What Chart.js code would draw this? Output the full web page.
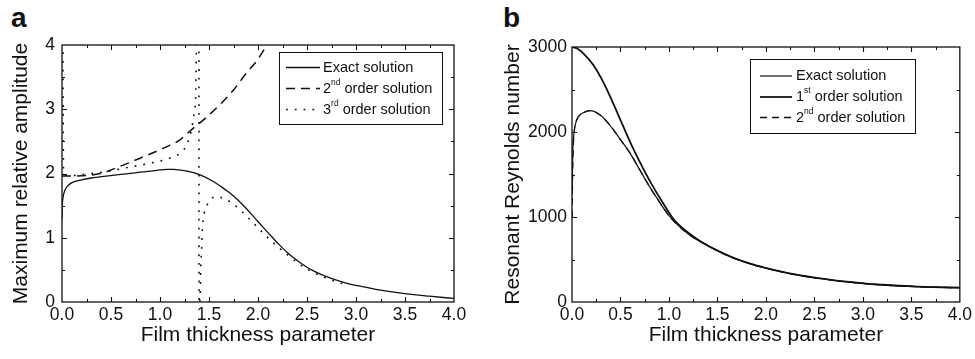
<!DOCTYPE html>
<html>
<head>
<meta charset="utf-8">
<script src="https://cdn.jsdelivr.net/npm/chart.js@4.4.0/dist/chart.umd.min.js"></script>
<style>
  body { margin: 0; background: #fff; width: 975px; height: 359px; overflow: hidden; position: relative;
         font-family: "Liberation Sans", Arial, sans-serif; }
  .panel { position: absolute; top: 0; height: 359px; }
  #panelA { left: 0; width: 480px; }
  #panelB { left: 480px; width: 495px; }
  .tag { position: absolute; top: 4px; font-size: 28px; font-weight: bold; line-height: 28px; color: #111; }
</style>
</head>
<body>
<div class="tag" style="left:11px">a</div>
<div class="tag" style="left:503px">b</div>
<div class="panel" id="panelA"><canvas id="chartA" width="480" height="359"></canvas></div>
<div class="panel" id="panelB"><canvas id="chartB" width="495" height="359"></canvas></div>
<script>
// ---- panel a : maximum relative amplitude ----
const exactAX = [0, 0.003, 0.01, 0.03, 0.06, 0.12, 0.2, 0.3, 0.45, 0.63, 0.8, 0.97, 1.07, 1.14, 1.2, 1.3, 1.41, 1.54,
  1.62, 1.71, 1.8, 1.88, 1.96, 2.05, 2.14, 2.22, 2.31, 2.4, 2.48, 2.57, 2.74, 2.9, 3.08, 3.25, 3.5, 3.75, 4.0];
const exactAY = [1.3, 1.5, 1.62, 1.74, 1.81, 1.87, 1.9, 1.93, 1.96, 1.99, 2.02, 2.05, 2.065, 2.065, 2.055, 2.03, 1.98, 1.88,
  1.8, 1.7, 1.58, 1.455, 1.32, 1.165, 1.015, 0.885, 0.755, 0.645, 0.56, 0.48, 0.37, 0.295, 0.235, 0.185, 0.13, 0.09, 0.055];

const secondAX = [0, 0.1, 0.25, 0.39, 0.59, 0.83, 1.03, 1.2, 1.32, 1.44, 1.61, 1.75, 1.88, 1.99, 2.09, 2.15];
const secondAY = [1.96, 1.96, 1.97, 2.0, 2.11, 2.26, 2.39, 2.52, 2.68, 2.83, 3.07, 3.30, 3.56, 3.76, 4.0, 4.15];

const thirdAX = [0.01, 0.012, 0.016, 0.05, 0.12, 0.25, 0.46, 0.69, 0.9, 1.1, 1.2, 1.28, 1.32, 1.35, 1.364, 1.376,
  1.397, 1.398, 1.41, 1.415, 1.425, 1.43, 1.44, 1.46, 1.5, 1.544, 1.59, 1.636, 1.73, 1.816, 1.9, 1.99, 2.07, 2.16,
  2.24, 2.33, 2.42, 2.51, 2.6, 2.7, 2.8, 2.9];
const thirdAY = [4.3, 3.0, 2.02, 1.97, 1.97, 1.99, 2.03, 2.1, 2.16, 2.24, 2.31, 2.47, 2.68, 2.96, 3.2, 4.2,
  4.2, -0.1, 0.1, 0.5, 0.84, 1.07, 1.28, 1.43, 1.56, 1.63, 1.64, 1.62, 1.545, 1.435, 1.31, 1.17, 1.045, 0.915,
  0.81, 0.7, 0.59, 0.505, 0.435, 0.37, 0.315, 0.27];

// ---- panel b : resonant Reynolds number ----
const exactBX = [0, 0.004, 0.01, 0.02, 0.048, 0.08, 0.116, 0.185, 0.29, 0.39, 0.49, 0.6, 0.7, 0.8, 0.9, 1.0, 1.1, 1.2,
  1.32, 1.49, 1.66, 1.83, 2.0, 2.17, 2.34, 2.52, 2.69, 2.86, 3.03, 3.2, 3.37, 3.55, 3.72, 4.0];
const exactBY = [1250, 1550, 1820, 1990, 2141, 2200, 2227, 2251, 2200, 2082, 1926, 1749, 1553, 1357, 1180, 1015, 895, 800,
  712, 608, 520, 452, 398, 353, 315, 282, 256, 234, 215, 201, 189, 180, 174, 168];

const firstBX = [0, 0.05, 0.116, 0.22, 0.32, 0.425, 0.53, 0.63, 0.733, 0.836, 0.94, 1.04, 1.1, 1.2, 1.32, 1.49, 1.66,
  1.83, 2.0, 2.17, 2.34, 2.52, 2.69, 2.86, 3.03, 3.2, 3.37, 3.55, 3.72, 4.0];
const firstBY = [3000, 2985, 2926, 2788, 2592, 2337, 2062, 1808, 1573, 1357, 1161, 985, 910, 815, 718, 610, 522,
  454, 400, 355, 317, 284, 258, 236, 217, 203, 191, 182, 175, 169];

const secondBX = [0.001, 0.005, 0.012, 0.025, 0.048, 0.08, 0.116, 0.185, 0.29, 0.39, 0.49, 0.6, 0.7, 0.8, 0.9, 1.0,
  1.1, 1.2, 1.32, 1.49, 1.66, 1.83, 2.0, 2.17, 2.34, 2.52, 2.69, 2.86, 3.03, 3.2, 3.37, 3.55, 3.72, 4.0];
const secondBY = [1000, 1400, 1780, 2020, 2141, 2200, 2227, 2251, 2200, 2082, 1926, 1749, 1553, 1357, 1180, 1015,
  895, 800, 712, 608, 520, 452, 398, 353, 315, 282, 256, 234, 215, 201, 189, 180, 174, 168];

// ticks
const xMinorTicks = [0.25, 0.75, 1.25, 1.75, 2.25, 2.75, 3.25, 3.75];
const xMajorTicks = [0.5, 1.0, 1.5, 2.0, 2.5, 3.0, 3.5];
const yMajorTicksA = [1, 2, 3];
const yMinorTicksA = [0.5, 1.5, 2.5, 3.5];
const yMajorTicksB = [1000, 2000];
const yMinorTicksB = [500, 1500, 2500];

// legend texts: [base, superscript, rest]
const legendA = [['Exact solution', '', ''], ['2', 'nd', ' order solution'], ['3', 'rd', ' order solution']];
const legendB = [['Exact solution', '', ''], ['1', 'st', ' order solution'], ['2', 'nd', ' order solution']];

const FONT = "'Liberation Sans', Arial, sans-serif";
Chart.defaults.font.family = FONT;
Chart.defaults.color = '#111';

function pts(xs, ys) {
  return xs.map((v, i) => ({x: v, y: ys[i]}));
}

// frame with inward ticks on all four sides
const frameTicks = {
  id: 'frameTicks',
  afterDatasetsDraw(chart, args, o) {
    const {ctx, chartArea: a, scales: {x, y}} = chart;
    ctx.save();
    ctx.strokeStyle = '#111';
    ctx.lineWidth = 1.3;
    ctx.strokeRect(a.left, a.top, a.right - a.left, a.bottom - a.top);
    ctx.lineWidth = 1.1;
    ctx.beginPath();
    const xt = (v, len) => {
      const p = Math.round(x.getPixelForValue(v)) + 0.5;
      ctx.moveTo(p, a.bottom); ctx.lineTo(p, a.bottom - len);
      ctx.moveTo(p, a.top); ctx.lineTo(p, a.top + len);
    };
    const yt = (v, len) => {
      const p = Math.round(y.getPixelForValue(v)) + 0.5;
      ctx.moveTo(a.left, p); ctx.lineTo(a.left + len, p);
      ctx.moveTo(a.right, p); ctx.lineTo(a.right - len, p);
    };
    o.xMajor.forEach(v => xt(v, 5));
    o.xMinor.forEach(v => xt(v, 3));
    o.yMajor.forEach(v => yt(v, 5));
    o.yMinor.forEach(v => yt(v, 3));
    ctx.stroke();
    ctx.restore();
  }
};

// boxed legend with superscripts
const legendBox = {
  id: 'legendBox',
  afterDraw(chart, args, o) {
    const ctx = chart.ctx;
    ctx.save();
    ctx.strokeStyle = '#111';
    ctx.lineWidth = 1;
    ctx.strokeRect(o.left + 0.5, o.top + 0.5, o.right - o.left, o.bottom - o.top);
    const mainFont = '14.5px ' + FONT;
    const supFont = '8.5px ' + FONT;
    o.labels.forEach((lab, i) => {
      const yy = o.rows[i];
      const ds = chart.data.datasets[i];
      ctx.beginPath();
      ctx.setLineDash(ds.borderDash || []);
      ctx.lineWidth = ds.borderWidth;
      ctx.moveTo(o.lineX0, yy);
      ctx.lineTo(o.lineX1, yy);
      ctx.stroke();
      ctx.setLineDash([]);
      ctx.fillStyle = '#111';
      ctx.textBaseline = 'middle';
      ctx.font = mainFont;
      let tx = o.textX;
      ctx.fillText(lab[0], tx, yy);
      tx += ctx.measureText(lab[0]).width;
      if (lab[1]) {
        ctx.font = supFont;
        ctx.fillText(lab[1], tx, yy - 6);
        tx += ctx.measureText(lab[1]).width;
        ctx.font = mainFont;
      }
      ctx.fillText(lab[2], tx, yy);
    });
    ctx.restore();
  }
};

function line(data, width, dash) {
  return {data: data, showLine: true, pointRadius: 0, borderColor: '#111', borderWidth: width,
    borderDash: dash, cubicInterpolationMode: 'monotone', fill: false};
}

function axes(yMax, yStep, yTitle, yWidth, yPad, yTitlePad) {
  return {
    x: {
      type: 'linear', min: 0, max: 4,
      grid: {display: false, drawTicks: false}, border: {display: false},
      ticks: {stepSize: 0.5, padding: 3, maxRotation: 0, autoSkip: false, font: {size: 17.5},
        callback: v => v.toFixed(1)},
      title: {display: true, text: 'Film thickness parameter', font: {size: 21}, padding: {top: 0, bottom: 11}},
      afterFit: s => { s.height = 57; }
    },
    y: {
      type: 'linear', min: 0, max: yMax,
      grid: {display: false, drawTicks: false}, border: {display: false},
      ticks: {stepSize: yStep, padding: yPad, font: {size: 17.5}, callback: v => String(v)},
      title: {display: true, text: yTitle, font: {size: 21}, padding: {top: yTitlePad, bottom: 0}},
      afterFit: s => { s.width = yWidth; }
    }
  };
}

new Chart(document.getElementById('chartA'), {
  type: 'scatter',
  data: {
    datasets: [
      line(pts(exactAX, exactAY), 1.3, []),
      line(pts(secondAX, secondAY), 1.5, [9, 6]),
      line(pts(thirdAX, thirdAY), 1.6, [1.8, 7])
    ]
  },
  options: {
    responsive: false, animation: false,
    layout: {padding: {top: 45, right: 26, left: 0, bottom: 0}},
    scales: axes(4, 1, 'Maximum relative amplitude', 62, 7, 9),
    plugins: {
      legend: {display: false}, tooltip: {enabled: false},
      frameTicks: {xMajor: xMajorTicks, xMinor: xMinorTicks, yMajor: yMajorTicksA, yMinor: yMinorTicksA},
      legendBox: {left: 279, right: 442, top: 52, bottom: 124, rows: [67.5, 88.5, 109.5],
        lineX0: 286, lineX1: 320, textX: 323, labels: legendA}
    }
  },
  plugins: [frameTicks, legendBox]
});

new Chart(document.getElementById('chartB'), {
  type: 'scatter',
  data: {
    datasets: [
      line(pts(exactBX, exactBY), 1.2, []),
      line(pts(firstBX, firstBY), 1.8, []),
      line(pts(secondBX, secondBY), 1.3, [7, 5])
    ]
  },
  options: {
    responsive: false, animation: false,
    layout: {padding: {top: 47, right: 14, left: 0, bottom: 0}},
    scales: axes(3000, 1000, 'Resonant Reynolds number', 92, 5, 21),
    plugins: {
      legend: {display: false}, tooltip: {enabled: false},
      frameTicks: {xMajor: xMajorTicks, xMinor: xMinorTicks, yMajor: yMajorTicksB, yMinor: yMinorTicksB},
      legendBox: {left: 270, right: 435, top: 59, bottom: 133, rows: [76, 97, 117.5],
        lineX0: 280, lineX1: 312, textX: 316, labels: legendB}
    }
  },
  plugins: [frameTicks, legendBox]
});
</script>
</body>
</html>
